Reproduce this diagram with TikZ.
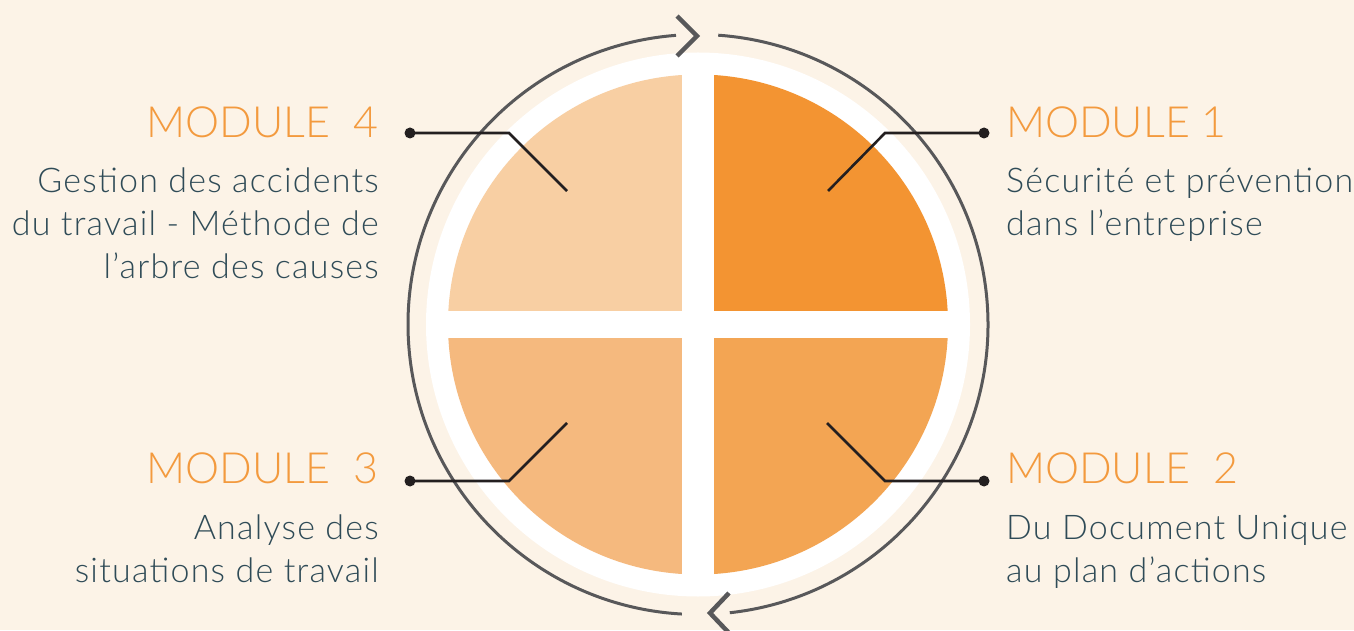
\documentclass[tikz,border=0pt]{standalone}
\usepackage{fontspec}
\setmainfont{Lato Light}
\newfontfamily\bodyfont{Lato Light}[LetterSpace=3.6]
\definecolor{bg}{HTML}{FCF3E7}
\definecolor{qtr}{HTML}{F39432}
\definecolor{qbr}{HTML}{F3A553}
\definecolor{qbl}{HTML}{F5B97E}
\definecolor{qtl}{HTML}{F8CFA3}
\definecolor{modc}{HTML}{F39A3E}
\definecolor{bodyc}{HTML}{2F4B57}
\definecolor{arcc}{HTML}{58585A}
\definecolor{leadc}{HTML}{231F20}
\tikzset{
  modlbl/.style={inner sep=0pt, text=modc, font=\fontsize{43}{43}\selectfont},
  bodylbl/.style={inner sep=0pt, text=bodyc, font=\bodyfont\fontsize{34}{43}\selectfont},
  leader/.style={draw=leadc, line width=2.6pt},
  leaddot/.style={circle, fill=leadc, inner sep=0pt, minimum size=11pt},
  ring/.style={draw=arcc, line width=3pt},
  chev/.style={draw=arcc, line width=4.5pt, line join=miter},
}
\begin{document}
\begin{tikzpicture}[x=1pt,y=1pt]
\useasboundingbox (0,0) rectangle (1354,630);
\fill[bg] (0,0) rectangle (1354,630);
\coordinate (C) at (698,305.5);
% white disc
\fill[white] (C) circle[radius=272];
% quadrants
\fill[qtr] (C) -- ++(0:250) arc[start angle=0,end angle=90,radius=250] -- cycle;
\fill[qtl] (C) -- ++(90:250) arc[start angle=90,end angle=180,radius=250] -- cycle;
\fill[qbl] (C) -- ++(180:250) arc[start angle=180,end angle=270,radius=250] -- cycle;
\fill[qbr] (C) -- ++(270:250) arc[start angle=270,end angle=360,radius=250] -- cycle;
% white cross
\fill[white] (682,45) rectangle (714,566);
\fill[white] (438,292) rectangle (958,319);
% outer ring arcs
\draw[ring] (C) ++(94.35:290) arc[start angle=94.35,end angle=266.8,radius=290];
\draw[ring] (C) ++(-83.7:290) arc[start angle=-83.7,end angle=86,radius=290];
% chevrons
\coordinate (ta) at (677,614);
\coordinate (tb) at (697,594);
\coordinate (tc) at (677,574);
\draw[chev] (ta) -- (tb) -- (tc);
\coordinate (ba) at (729,37);
\coordinate (bb) at (710,17);
\coordinate (bc) at (729,-3);
\draw[chev] (ba) -- (bb) -- (bc);
% leader lines
\node[leaddot] (d4) at (410,497) {};
\coordinate (e4) at (509,497);
\coordinate (i4) at (567,439);
\draw[leader] (d4.center) -- (e4) -- (i4);
\node[leaddot] (d1) at (984,497) {};
\coordinate (e1) at (885,497);
\coordinate (i1) at (828,439);
\draw[leader] (d1.center) -- (e1) -- (i1);
\node[leaddot] (d2) at (984,149) {};
\coordinate (e2) at (885,149);
\coordinate (i2) at (827,207);
\draw[leader] (d2.center) -- (e2) -- (i2);
\node[leaddot] (d3) at (410,149) {};
\coordinate (e3) at (509,149);
\coordinate (i3) at (567,207);
\draw[leader] (d3.center) -- (e3) -- (i3);
% labels
\node[modlbl, anchor=base east] (m4) at (379,492) {MODULE\ \ 4};
\node[modlbl, anchor=base west] (m1) at (1006,492) {MODULE 1};
\node[modlbl, anchor=base east] (m3) at (379,147) {MODULE\ \ 3};
\node[modlbl, anchor=base west] (m2) at (1006,147) {MODULE\ \ 2};
% body texts
\node[bodylbl, anchor=base east] (t4a) at (379,437) {Gestion des accidents};
\node[bodylbl, anchor=base east] (t4b) at (379,394) {du travail - Méthode de};
\node[bodylbl, anchor=base east] (t4c) at (379,351) {l’arbre des causes};
\node[bodylbl, anchor=base west] (t1a) at (1006,437) {Sécurité et prévention};
\node[bodylbl, anchor=base west] (t1b) at (1006,394) {dans l’entreprise};
\node[bodylbl, anchor=base east] (t3a) at (379,91) {Analyse des};
\node[bodylbl, anchor=base east] (t3b) at (379,48) {situations de travail};
\node[bodylbl, anchor=base west] (t2a) at (1006,91) {Du Document Unique};
\node[bodylbl, anchor=base west] (t2b) at (1006,48) {au plan d’actions};
\end{tikzpicture}
\end{document}
